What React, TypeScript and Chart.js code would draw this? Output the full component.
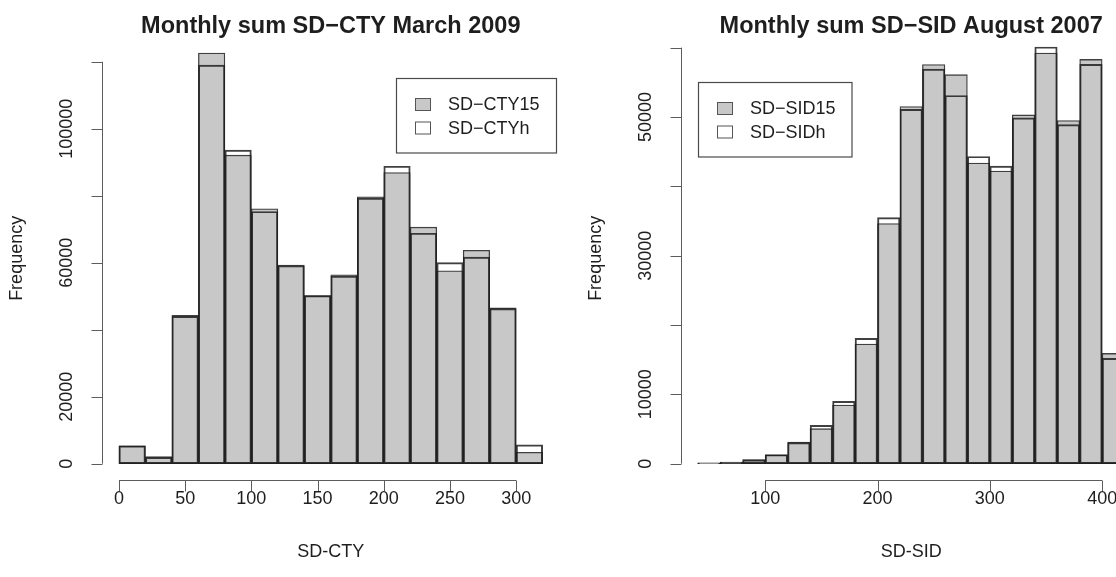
import React, { useEffect, useRef } from "react";
import { Chart, registerables } from "chart.js";

Chart.register(...registerables);

// ---------- Left panel: SD-CTY, March 2009 ----------
const ctyBreaks = [0, 20, 40, 60, 80, 100, 120, 140, 160, 180, 200, 220, 240, 260, 280, 300, 320];
const ctyFreq15 = [5300, 2100, 44300, 122600, 92100, 76100, 59300, 50150, 56400, 79700, 86900, 70600, 57600, 63700, 46500, 3400];
const ctyFreqH = [5300, 1900, 44000, 119000, 93600, 75300, 59100, 50150, 56000, 79300, 88800, 68800, 60000, 61700, 46300, 5600];
const ctyXTicks = [0, 50, 100, 150, 200, 250, 300];
const ctyXTickLabels = ["0", "50", "100", "150", "200", "250", "300"];
const ctyYTicks = [0, 20000, 40000, 60000, 80000, 100000, 120000];
const ctyYTickLabels = ["0", "20000", "", "60000", "", "100000", ""];
const ctyTitle = "Monthly sum SD\u2212CTY March 2009";
const ctyXLabel = "SD-CTY";
const ctyLegend = ["SD\u2212CTY15", "SD\u2212CTYh"];

// ---------- Right panel: SD-SID, August 2007 ----------
const sidBreaks = [40, 60, 80, 100, 120, 140, 160, 180, 200, 220, 240, 260, 280, 300, 320, 340, 360, 380, 400, 420];
const sidFreq15 = [120, 220, 580, 1250, 3100, 5050, 8460, 17250, 34640, 51500, 57550, 56100, 43350, 42200, 50290, 59220, 49480, 58300, 15900];
const sidFreqH = [100, 200, 550, 1300, 3050, 5530, 8990, 18070, 35500, 51100, 56900, 53100, 44300, 42900, 49860, 60090, 48900, 57600, 15200];
const sidXTicks = [100, 200, 300, 400];
const sidXTickLabels = ["100", "200", "300", "400"];
const sidYTicks = [0, 10000, 20000, 30000, 40000, 50000, 60000];
const sidYTickLabels = ["0", "10000", "", "30000", "", "50000", ""];
const sidTitle = "Monthly sum SD\u2212SID August 2007";
const sidXLabel = "SD-SID";
const sidLegend = ["SD\u2212SID15", "SD\u2212SIDh"];

const yLabel = "Frequency";

// ---------- styling ----------
const FONT = '"Liberation Sans", Arial, Helvetica, sans-serif';
const GRAY = "#c8c8c8";
const BAR_BORDER = "rgba(30,30,30,0.85)";
const AXIS = "#5c5c5c";
const TEXT = "#1e1e1e";
const CANVAS_W = 579;
const CANVAS_H = 577;

type PanelProps = {
  left: number;
  breaks: number[];
  freq15: number[];
  freqH: number[];
  xTicks: number[];
  xTickLabels: string[];
  yTicks: number[];
  yTickLabels: string[];
  title: string;
  xLabel: string;
  legend: string[];
  padding: { left: number; right: number; top: number; bottom: number };
  legendBox: { dx: number; dy: number; w: number; h: number };
};

const rHistPlugin = {
  id: "rHist",
  afterDraw(chart: any, _args: any, o: any) {
    const { ctx, chartArea: ca, scales } = chart;
    const xs = scales.x;
    const ys = scales.y;
    ctx.save();

    // x axis
    ctx.strokeStyle = AXIS;
    ctx.lineWidth = 1;
    const yAxisPix = Math.round(ca.bottom) + 0.5;
    const xFirst = xs.getPixelForValue(o.xTicks[0]);
    const xLast = xs.getPixelForValue(o.xTicks[o.xTicks.length - 1]);
    ctx.beginPath();
    ctx.moveTo(xFirst, yAxisPix);
    ctx.lineTo(xLast, yAxisPix);
    o.xTicks.forEach((v: number) => {
      const px = Math.round(xs.getPixelForValue(v)) + 0.5;
      ctx.moveTo(px, yAxisPix);
      ctx.lineTo(px, yAxisPix + 11);
    });
    ctx.stroke();

    ctx.fillStyle = TEXT;
    ctx.font = `18px ${FONT}`;
    ctx.textAlign = "center";
    ctx.textBaseline = "middle";
    o.xTicks.forEach((v: number, i: number) => {
      ctx.fillText(o.xTickLabels[i], xs.getPixelForValue(v), ca.bottom + 19);
    });
    ctx.fillText(o.xLabel, (ca.left + ca.right) / 2, ca.bottom + 72);

    // y axis
    const xAxisPix = Math.round(ca.left) + 0.5;
    const yFirst = ys.getPixelForValue(o.yTicks[0]);
    const yLast = ys.getPixelForValue(o.yTicks[o.yTicks.length - 1]);
    ctx.beginPath();
    ctx.moveTo(xAxisPix, yFirst);
    ctx.lineTo(xAxisPix, yLast);
    o.yTicks.forEach((v: number) => {
      const py = Math.round(ys.getPixelForValue(v)) + 0.5;
      ctx.moveTo(xAxisPix, py);
      ctx.lineTo(xAxisPix - 11, py);
    });
    ctx.stroke();

    o.yTicks.forEach((v: number, i: number) => {
      const lab = o.yTickLabels[i];
      if (!lab) return;
      ctx.save();
      ctx.translate(ca.left - 34.5, ys.getPixelForValue(v));
      ctx.rotate(-Math.PI / 2);
      ctx.fillText(lab, 0, 0);
      ctx.restore();
    });
    ctx.save();
    ctx.translate(ca.left - 84.5, (ca.top + ca.bottom) / 2);
    ctx.rotate(-Math.PI / 2);
    ctx.fillText(o.yLabel, 0, 0);
    ctx.restore();

    // title
    ctx.font = `bold 23.5px ${FONT}`;
    ctx.textBaseline = "alphabetic";
    ctx.fillText(o.title, (ca.left + ca.right) / 2, 32.5);

    // legend
    const lb = o.legendBox;
    const bx = Math.round(ca.left + lb.dx) + 0.5;
    const by = Math.round(ca.top + lb.dy) + 0.5;
    ctx.fillStyle = "#ffffff";
    ctx.fillRect(bx, by, lb.w, lb.h);
    ctx.strokeStyle = "#4a4a4a";
    ctx.lineWidth = 1.2;
    ctx.strokeRect(bx, by, lb.w, lb.h);
    const fills = [GRAY, "#ffffff"];
    const rows = [26, 49.5];
    ctx.font = `18px ${FONT}`;
    ctx.textAlign = "left";
    ctx.textBaseline = "middle";
    o.legend.forEach((lab: string, i: number) => {
      const cy = by + rows[i];
      ctx.fillStyle = fills[i];
      ctx.fillRect(bx + 19, cy - 6, 15, 12);
      ctx.strokeStyle = "#555555";
      ctx.lineWidth = 1;
      ctx.strokeRect(bx + 19, cy - 6, 15, 12);
      ctx.fillStyle = TEXT;
      ctx.fillText(lab, bx + 51.5, cy + 1);
    });

    ctx.restore();
  },
};

function HistPanel(p: PanelProps) {
  const ref = useRef<HTMLCanvasElement | null>(null);

  useEffect(() => {
    if (!ref.current) return;
    const centers = p.breaks.slice(0, -1).map((b, i) => (b + p.breaks[i + 1]) / 2);
    const lo = p.breaks[0];
    const hi = p.breaks[p.breaks.length - 1];
    const xPad = (hi - lo) * 0.04;
    const yMax = Math.max(...p.freq15);
    const yPad = yMax * 0.04;

    const common = {
      borderColor: BAR_BORDER,
      borderWidth: 1.3,
      borderSkipped: false,
      grouped: false,
      barPercentage: 1,
      categoryPercentage: 1,
    };

    const chart = new Chart(ref.current, {
      type: "bar",
      data: {
        datasets: [
          {
            ...common,
            label: p.legend[1],
            data: centers.map((c, i) => ({ x: c, y: p.freqH[i] })),
            backgroundColor: "rgba(255,255,255,0)",
            order: 0,
          },
          {
            ...common,
            label: p.legend[0],
            data: centers.map((c, i) => ({ x: c, y: p.freq15[i] })),
            backgroundColor: GRAY,
            order: 1,
          },
        ],
      } as any,
      options: {
        responsive: false,
        animation: false,
        devicePixelRatio: 1,
        layout: { padding: p.padding },
        plugins: {
          legend: { display: false },
          tooltip: { enabled: false },
          title: { display: false },
          rHist: {
            xTicks: p.xTicks,
            xTickLabels: p.xTickLabels,
            yTicks: p.yTicks,
            yTickLabels: p.yTickLabels,
            title: p.title,
            xLabel: p.xLabel,
            yLabel: yLabel,
            legend: p.legend,
            legendBox: p.legendBox,
          },
        } as any,
        scales: {
          x: {
            type: "linear",
            min: lo - xPad,
            max: hi + xPad,
            offset: false,
            display: false,
            afterBuildTicks: (s: any) => {
              s.ticks = p.xTicks.map((v) => ({ value: v }));
            },
          },
          y: {
            type: "linear",
            min: -yPad,
            max: yMax + yPad,
            display: false,
            afterBuildTicks: (s: any) => {
              s.ticks = p.yTicks.map((v) => ({ value: v }));
            },
          },
        },
      } as any,
      plugins: [rHistPlugin],
    });
    return () => chart.destroy();
  }, []);

  return (
    <canvas
      ref={ref}
      width={CANVAS_W}
      height={CANVAS_H}
      style={{ position: "absolute", left: p.left, top: 0, width: CANVAS_W, height: CANVAS_H }}
    />
  );
}

export default function App() {
  return (
    <div
      style={{
        position: "fixed",
        left: 0,
        top: 0,
        width: 1116,
        height: 577,
        overflow: "hidden",
        background: "#ffffff",
      }}
    >
      <HistPanel
        left={0}
        breaks={ctyBreaks}
        freq15={ctyFreq15}
        freqH={ctyFreqH}
        xTicks={ctyXTicks}
        xTickLabels={ctyXTickLabels}
        yTicks={ctyYTicks}
        yTickLabels={ctyYTickLabels}
        title={ctyTitle}
        xLabel={ctyXLabel}
        legend={ctyLegend}
        padding={{ left: 102, right: 19.4, top: 36.6, bottom: 96.9 }}
        legendBox={{ dx: 293.5, dy: 41.7, w: 160, h: 74.5 }}
      />
      <HistPanel
        left={579}
        breaks={sidBreaks}
        freq15={sidFreq15}
        freqH={sidFreqH}
        xTicks={sidXTicks}
        xTickLabels={sidXTickLabels}
        yTicks={sidYTicks}
        yTickLabels={sidYTickLabels}
        title={sidTitle}
        xLabel={sidXLabel}
        legend={sidLegend}
        padding={{ left: 101.7, right: 16.3, top: 36.6, bottom: 96.9 }}
        legendBox={{ dx: 16.8, dy: 45.1, w: 153.5, h: 74.5 }}
      />
    </div>
  );
}
